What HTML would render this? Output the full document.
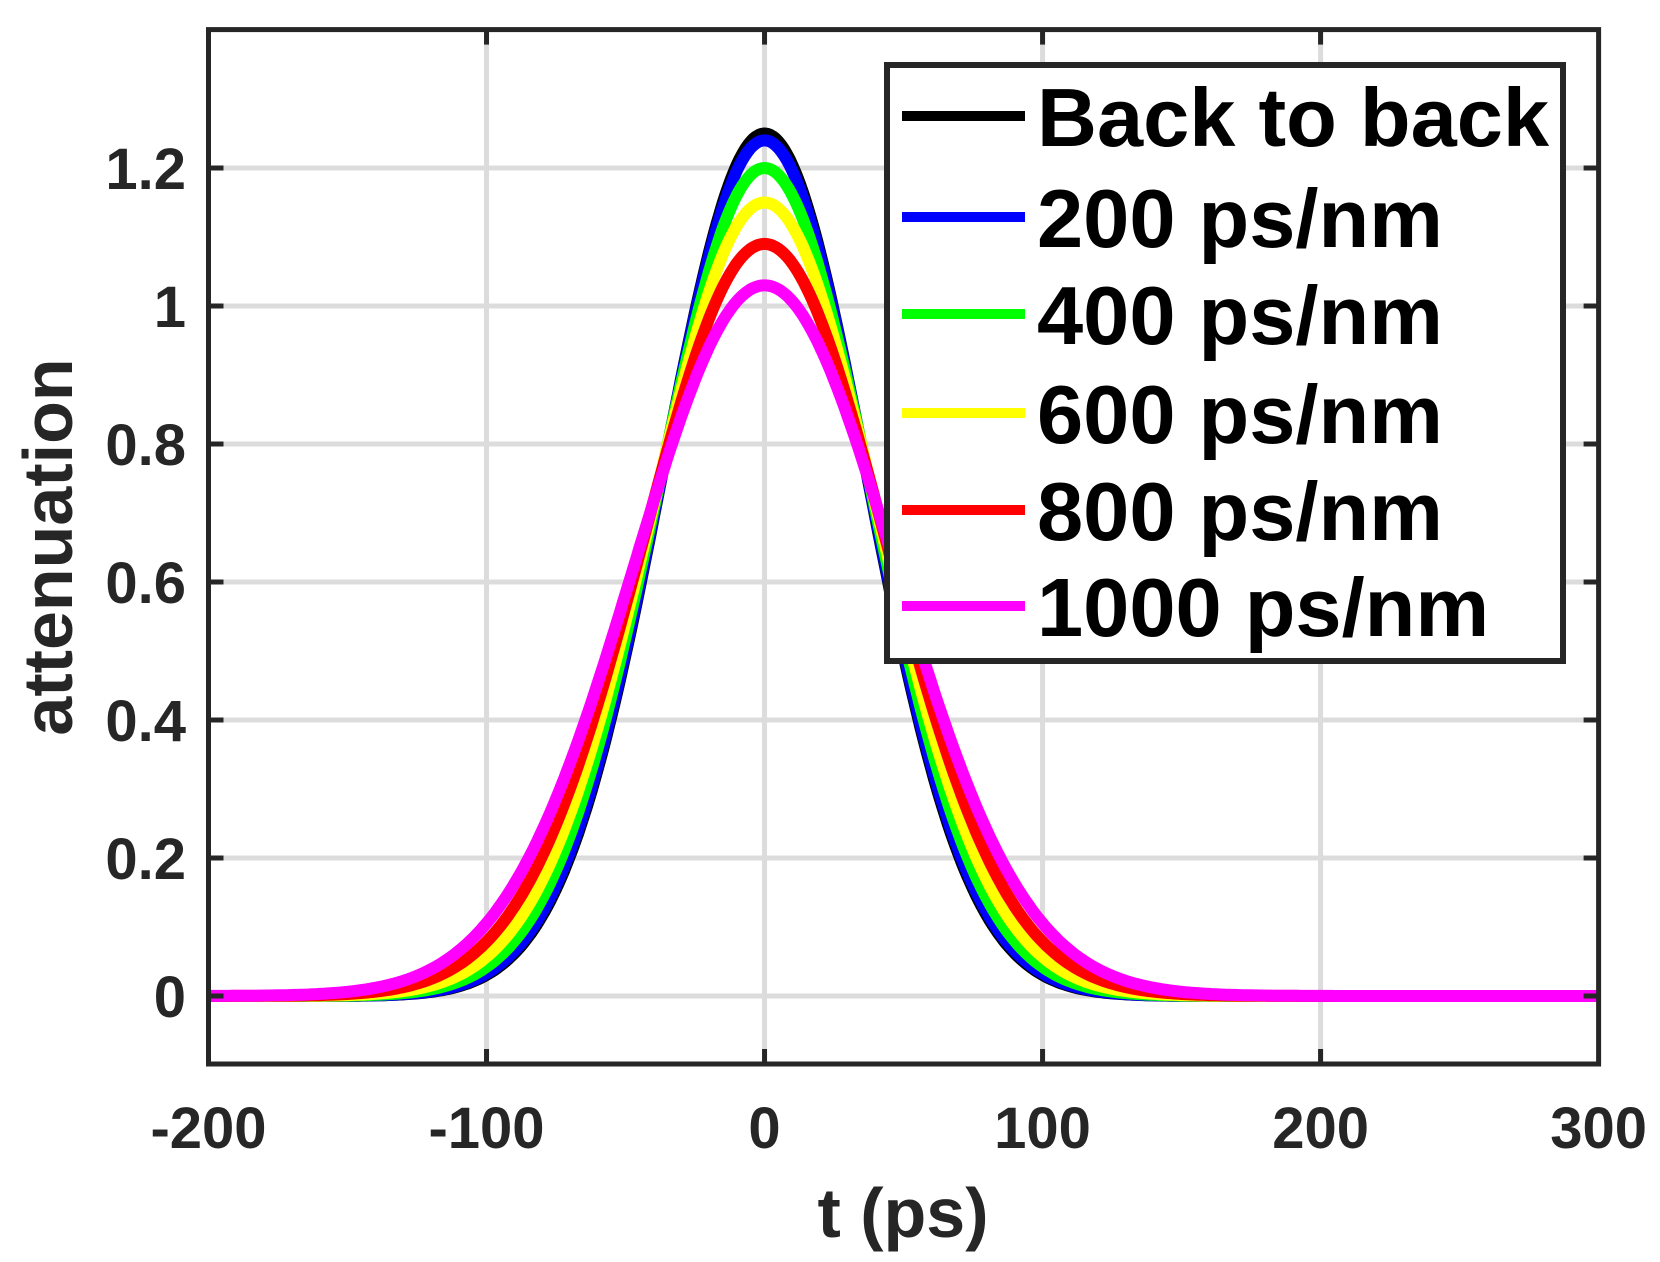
<!DOCTYPE html>
<html><head><meta charset="utf-8"><style>
html,body{margin:0;padding:0;background:#fff;}
svg text{font-family:"Liberation Sans",Arial,sans-serif;font-weight:bold;fill:#262626;}
</style></head><body>
<svg id="s" width="1660" height="1257" viewBox="0 0 1660 1257" xmlns="http://www.w3.org/2000/svg">
<rect width="1660" height="1257" fill="#fff"/>
<g id="grid" stroke="#dcdcdc" stroke-width="5"></g>
<g id="curves" fill="none" stroke-width="12" stroke-linejoin="round"></g>
<g id="axes" stroke="#262626" fill="none"></g>
<g id="labels" font-size="58"></g>
<text x="903" y="1237" font-size="70" text-anchor="middle">t (ps)</text>
<text transform="translate(72,547) rotate(-90)" font-size="70" text-anchor="middle">attenuation</text>
<g id="legend"></g>
</svg>
<script>
const X0=208.5,X1=1598.6,Y0=29.6,Y1=1064;
const xs=t=>X0+(t+200)/500*(X1-X0);
const ys=v=>996-v*690;
const ns="http://www.w3.org/2000/svg";
function el(p,tag,a,txt){const e=document.createElementNS(ns,tag);for(const k in a)e.setAttribute(k,a[k]);if(txt!==undefined)e.textContent=txt;document.getElementById(p).appendChild(e);return e;}
for(let t=-100;t<=200;t+=100)el('grid','line',{x1:xs(t),x2:xs(t),y1:Y0,y2:Y1});
for(let v=0;v<=1.21;v+=0.2)el('grid','line',{x1:X0,x2:X1,y1:ys(v),y2:ys(v)});
const ser=[["#000",1.25],["#0000ff",1.24],["#00ff00",1.20],["#ffff00",1.15],["#ff0000",1.09],["#ff00ff",1.03]];
ser.forEach(([c,A])=>{const s=36.7*Math.pow(1.25/A,1.26);let d="";for(let t=-200;t<=300;t+=1){const v=A*Math.exp(-t*t/(2*s*s));d+=(t==-200?"M":"L")+xs(t).toFixed(1)+","+ys(v).toFixed(1);}el('curves','path',{d:d,stroke:c});});
el('axes','rect',{x:X0,y:Y0,width:X1-X0,height:Y1-Y0,"stroke-width":5});
for(let t=-100;t<=200;t+=100){el('axes','line',{x1:xs(t),x2:xs(t),y1:Y1,y2:Y1-15,"stroke-width":5});el('axes','line',{x1:xs(t),x2:xs(t),y1:Y0,y2:Y0+15,"stroke-width":5});}
for(let v=0;v<=1.21;v+=0.2){el('axes','line',{x1:X0,x2:X0+15,y1:ys(v),y2:ys(v),"stroke-width":5});el('axes','line',{x1:X1,x2:X1-15,y1:ys(v),y2:ys(v),"stroke-width":5});}
[-200,-100,0,100,200,300].forEach(t=>el('labels','text',{x:xs(t),y:1148,"text-anchor":"middle"},String(t)));
["0","0.2","0.4","0.6","0.8","1","1.2"].forEach((l,i)=>el('labels','text',{x:186,y:ys(i*0.2)+21,"text-anchor":"end"},l));
el('legend','rect',{x:887,y:65,width:676,height:596,fill:"#fff",stroke:"#262626","stroke-width":6});
const names=["Back to back","200 ps/nm","400 ps/nm","600 ps/nm","800 ps/nm","1000 ps/nm"];
const rows=[116,217,314,413,510,606];
names.forEach((n,i)=>{el('legend','line',{x1:902,x2:1025,y1:rows[i],y2:rows[i],stroke:ser[i][0],"stroke-width":10});el('legend','text',{x:1037,y:rows[i]+30,"font-size":83,style:"fill:#000"},n);});
</script>
</body></html>
